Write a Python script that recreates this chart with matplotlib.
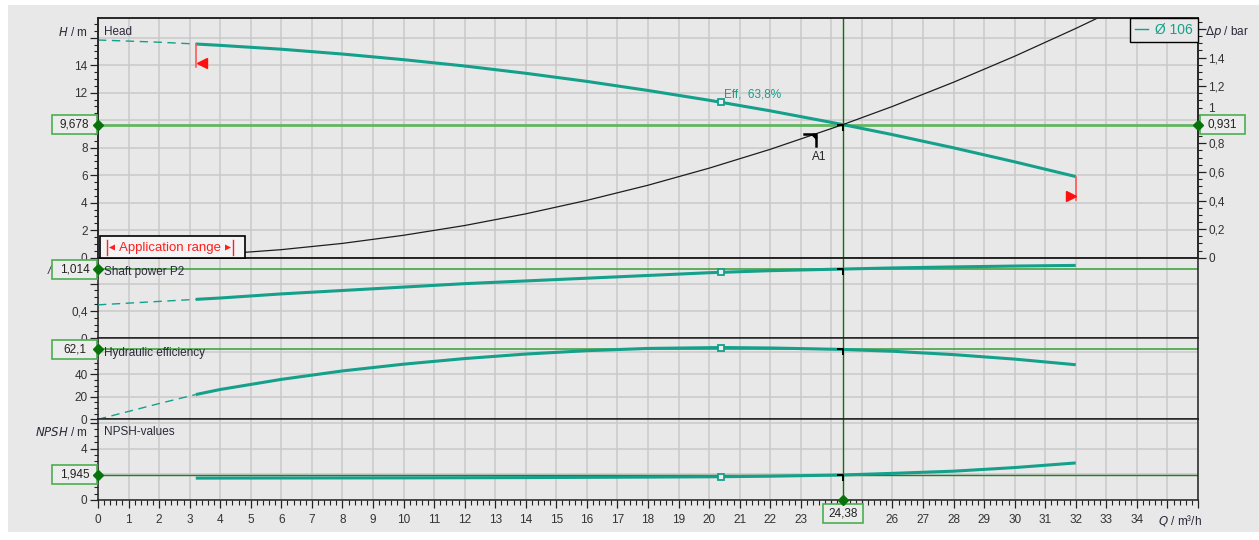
import numpy as np
import matplotlib.pyplot as plt
from matplotlib.lines import Line2D
from matplotlib.patches import Rectangle, Polygon
from matplotlib.path import Path
from matplotlib.ticker import MultipleLocator, FuncFormatter
from matplotlib.transforms import IdentityTransform, offset_copy

plt.rcParams['font.family'] = ['Liberation Sans', 'DejaVu Sans']
plt.rcParams['font.size'] = 8.5

W, H = 1259, 540
DPI = 100

BG = '#e8e8e8'
GRID = '#c9c9c9'
TEAL = '#14a08a'
DK_GREEN = '#0a720a'
INK = '#2a2a3a'

# pump curve, flow in m3/h
q_head = [0, 2, 3.2, 4, 6, 8, 10, 12, 14, 16, 18, 20, 22, 24, 24.38, 26, 28, 30, 32]
head = [15.83, 15.67, 15.54, 15.44, 15.16, 14.81, 14.40, 13.94, 13.41, 12.82,
        12.16, 11.45, 10.68, 9.84, 9.678, 8.95, 7.99, 6.97, 5.90]

# system curve
q_sys = [0, 2, 4, 6, 8, 10, 12, 14, 16, 18, 20, 22, 24.38, 26, 28, 30, 32, 33]
h_sys = [0, 0.065, 0.26, 0.586, 1.04, 1.63, 2.34, 3.19, 4.17, 5.27, 6.51, 7.88,
         9.678, 11.0, 12.76, 14.65, 16.67, 17.73]

q_pow = [0, 2, 3.2, 4, 6, 8, 10, 12, 14, 16, 18, 20, 22, 24.38, 26, 28, 30, 32]
power = [0.49, 0.54, 0.57, 0.59, 0.65, 0.70, 0.75, 0.80, 0.84, 0.88, 0.92,
         0.96, 0.99, 1.014, 1.03, 1.045, 1.058, 1.067]

q_eff = [0, 1, 2, 3.2, 4, 6, 8, 10, 12, 14, 16, 18, 20.4, 22, 24.38, 26, 28, 30, 32]
eff = [0, 7, 14, 22, 26.5, 35.5, 43, 49, 54, 58, 61, 63, 63.8, 63.4, 62.1,
       60.5, 57.5, 53.5, 48.5]

q_npsh = [3.2, 6, 10, 14, 18, 20.4, 22, 24.38, 26, 28, 30, 32]
npsh = [1.70, 1.71, 1.72, 1.74, 1.78, 1.81, 1.85, 1.945, 2.07, 2.24, 2.52, 2.88]

# duty point and best efficiency point
q_duty, h_duty, dp_duty = 24.38, 9.678, 0.931
p_duty, eff_duty, npsh_duty = 1.014, 62.1, 1.945
q_bep, eff_bep = 20.4, 63.8
q_min, q_max = 3.2, 32
q_a1 = 23.5

bar_per_m = dp_duty / h_duty


def dec_comma(hide=()):
    def fmt(v, pos):
        for h in hide:
            if abs(v - h) < 1e-9:
                return ''
        return f"{v:.2f}".rstrip('0').rstrip('.').replace('.', ',')
    return FuncFormatter(fmt)


fig = plt.figure(figsize=(W / DPI, H / DPI), dpi=DPI, facecolor='white')
fig.add_artist(Rectangle((8 / W, 8 / H), 1 - 8 / W, 1 - 13 / H,
                         transform=fig.transFigure, fc=BG, ec='none', zorder=-10))


def panel(top, bottom):
    ax = fig.add_axes([98 / W, 1 - bottom / H, 1100 / W, (bottom - top) / H])
    ax.set_facecolor(BG)
    ax.set_xlim(0, 36)
    ax.xaxis.set_major_locator(MultipleLocator(1))
    ax.xaxis.set_minor_locator(MultipleLocator(0.2))
    ax.grid(True, which='major', color=GRID, lw=1.1)
    ax.set_axisbelow(True)
    for s in ax.spines.values():
        s.set_color('#222222')
        s.set_linewidth(1.1)
    ax.tick_params(axis='y', which='major', direction='out', length=5.5, width=0.9,
                   colors='#222222', labelcolor='#333333', labelsize=8.5, pad=2)
    ax.tick_params(axis='y', which='minor', direction='out', length=3, width=0.8,
                   colors='#222222')
    ax.tick_params(axis='x', which='both', bottom=False, labelbottom=False)
    return ax


ax_h = panel(18, 257.7)
ax_p = panel(257.7, 338.3)
ax_e = panel(338.3, 419.3)
ax_n = panel(419.3, 500)

ax_h.set_ylim(0, 17.43)
ax_h.yaxis.set_major_locator(MultipleLocator(2))
ax_h.yaxis.set_minor_locator(MultipleLocator(0.5))
ax_h.yaxis.set_major_formatter(dec_comma(hide=(10, 16)))

ax_p.set_ylim(0, 1.18)
ax_p.yaxis.set_major_locator(MultipleLocator(0.4))
ax_p.yaxis.set_minor_locator(MultipleLocator(0.1))
ax_p.yaxis.set_major_formatter(dec_comma(hide=(0.8,)))

ax_e.set_ylim(0, 72)
ax_e.yaxis.set_major_locator(MultipleLocator(20))
ax_e.yaxis.set_minor_locator(MultipleLocator(5))
ax_e.yaxis.set_major_formatter(dec_comma(hide=(60,)))

ax_n.set_ylim(0, 6.27)
ax_n.yaxis.set_major_locator(MultipleLocator(2))
ax_n.yaxis.set_minor_locator(MultipleLocator(0.5))
ax_n.yaxis.set_major_formatter(dec_comma(hide=(2, 6)))
ax_n.tick_params(axis='x', which='major', bottom=True, labelbottom=True, direction='out',
                 length=6, width=0.9, colors='#222222', labelcolor='#333333',
                 labelsize=8.5, pad=4)
ax_n.tick_params(axis='x', which='minor', bottom=True, direction='out', length=3.5,
                 width=0.8, colors='#222222')
# labels under the duty flow box and past 34 are left out
ax_n.xaxis.set_major_formatter(
    FuncFormatter(lambda v, p: '' if (v > 34.5 or 23.5 < v < 25.5) else f"{v:g}"))

# differential pressure scale on the right of the head panel
ax_dp = ax_h.twinx()
ax_dp.set_ylim(0, 17.43 * bar_per_m)
ax_dp.yaxis.set_major_locator(MultipleLocator(0.2))
ax_dp.yaxis.set_minor_locator(MultipleLocator(0.05))
ax_dp.yaxis.set_major_formatter(dec_comma(hide=(1.0, 1.6)))
ax_dp.tick_params(axis='y', which='major', direction='out', length=5.5, width=0.9,
                  colors='#222222', labelcolor='#333333', labelsize=8.5, pad=2)
ax_dp.tick_params(axis='y', which='minor', direction='out', length=3, width=0.8,
                  colors='#222222')
for s in ax_dp.spines.values():
    s.set_color('#222222')
    s.set_linewidth(1.1)

# duty point lines
for ax in (ax_h, ax_p, ax_e, ax_n):
    ax.axvline(q_duty, color=DK_GREEN, lw=1.0, zorder=2)
ax_h.axhline(h_duty, color='#62b662', lw=2.0, zorder=2)
ax_p.axhline(p_duty, color='#34a034', lw=1.1, zorder=2)
ax_e.axhline(eff_duty, color='#34a034', lw=1.1, zorder=2)
ax_n.axhline(npsh_duty, color='#1f801f', lw=1.0, zorder=2)


def draw_curve(ax, q, v):
    q = np.asarray(q)
    v = np.asarray(v)
    lo = q <= q_min
    hi = q >= q_min
    if lo.sum() > 1:
        ax.plot(q[lo], v[lo], color=TEAL, lw=1.0, dashes=(6, 4), zorder=3)
    ax.plot(q[hi], v[hi], color=TEAL, lw=2.2, zorder=3, solid_capstyle='butt')


draw_curve(ax_h, q_head, head)
draw_curve(ax_p, q_pow, power)
draw_curve(ax_e, q_eff, eff)
draw_curve(ax_n, q_npsh, npsh)

ax_h.plot(q_sys, h_sys, color='#1e1e1e', lw=0.9, zorder=3)

# best efficiency point markers
for ax, q, v in ((ax_h, q_head, head), (ax_p, q_pow, power),
                 (ax_e, q_eff, eff), (ax_n, q_npsh, npsh)):
    ax.plot([q_bep], [np.interp(q_bep, q, v)], 's', ms=5, mfc='#eeeeee',
            mec=TEAL, mew=1.3, zorder=5)
ax_h.annotate(f"Eff.  {eff_bep:.1f}%".replace('.', ','),
              (q_bep, np.interp(q_bep, q_head, head)), xytext=(3, 8),
              textcoords='offset pixels', color=TEAL, fontsize=8.5, va='center')

# hook marks at the duty point and A1
hook = Path([(-1, 0), (0, 0), (0, -1)], [Path.MOVETO, Path.LINETO, Path.LINETO])
for ax, v in ((ax_h, h_duty), (ax_p, p_duty), (ax_e, eff_duty), (ax_n, npsh_duty)):
    ax.plot([q_duty], [v], marker=hook, ms=9, mfc='none', mec='black', mew=1.4,
            zorder=6)
hook_a1 = Path([(-1, 0), (0, 0), (0, -1), (-0.3, 0), (0, -0.3)],
               [Path.MOVETO, Path.LINETO, Path.LINETO, Path.MOVETO, Path.LINETO])
h_a1 = np.interp(q_a1, q_sys, h_sys)
ax_h.plot([q_a1], [h_a1], marker=hook_a1, ms=19, mfc='none', mec='black', mew=1.8,
          zorder=6)
ax_h.annotate('A1', (q_a1, h_a1), xytext=(3, -23), textcoords='offset pixels',
              ha='center', va='center', fontsize=8.5, color='#222222')

# application range limits
for q, v, dx in ((q_min, np.interp(q_min, q_head, head), 6),
                 (q_max, np.interp(q_max, q_head, head), -5)):
    tr = ax_h.transData
    ax_h.plot([q, q], [v, v - 23 / 13.75], color='#ff5a5a', lw=1.2, zorder=4)
    mk_tr = offset_copy(tr, fig=fig, x=dx, y=-19, units='dots')
    ax_h.plot([q], [v], marker='<' if dx > 0 else '>', ms=6.5, color='#ff1010',
              transform=mk_tr, zorder=4, clip_on=False)

# legend
leg = ax_dp.legend([Line2D([], [], color=TEAL, lw=1)], ['Ø 106'], loc='upper right',
                   bbox_to_anchor=(1, 1), borderaxespad=0, fancybox=False,
                   edgecolor='black', facecolor=BG, framealpha=1, labelcolor=TEAL,
                   handlelength=1.0, handletextpad=0.5, fontsize=10,
                   borderpad=0.35)
leg.get_frame().set_linewidth(1.0)


def img(x, y):
    return x, H - y


def value_box(ax, x, y, text, dx, dy=0, w=45, h=19):
    px, py = ax.transData.transform((x, y))
    cx, cy = px + dx, py + dy
    fig.add_artist(Rectangle((cx - w / 2, cy - h / 2), w, h, transform=IdentityTransform(),
                             fc='#ececec', ec='#4caf50', lw=1.2, zorder=5))
    fig.text(cx, cy, text, transform=IdentityTransform(), ha='center', va='center',
             fontsize=8.5, color='#222222', zorder=6)
    fig.add_artist(Line2D([px], [py], marker='D', ms=4.8, color=DK_GREEN,
                          transform=IdentityTransform(), zorder=7))


def comma(v):
    return f"{v:g}".replace('.', ',')


# axis captions
def ptext(x, y, s, **kw):
    kw.setdefault('va', 'center')
    kw.setdefault('color', INK)
    fig.text(*img(x, y), s, transform=IdentityTransform(), **kw)


ptext(88, 32, '$H$ / m', ha='right')
ptext(51, 271, '/', ha='right', style='italic')
ptext(88, 432, '$NPSH$ / m', ha='right')
ptext(1205, 32, r'$\Delta p$ / bar', ha='left')
ptext(1158, 520, '$Q$ / m³/h', ha='left')
ptext(104, 32, 'Head', ha='left')
ptext(104, 272, 'Shaft power P2', ha='left')
ptext(104, 353, 'Hydraulic efficiency', ha='left')
ptext(104, 432, 'NPSH-values', ha='left')
# the 1 bar label sits just above the duty pressure box
ptext(1208.5, 109, '1', ha='left', color='#333333', fontsize=8.5)

value_box(ax_h, 0, h_duty, comma(h_duty), dx=-23.5)
value_box(ax_dp, 36, dp_duty, comma(dp_duty), dx=24.5)
value_box(ax_p, 0, p_duty, comma(p_duty), dx=-23.5)
value_box(ax_e, 0, eff_duty, comma(eff_duty), dx=-23.5)
value_box(ax_n, 0, npsh_duty, comma(npsh_duty), dx=-23.5)
value_box(ax_n, q_duty, 0, comma(q_duty), dx=0, dy=-13.5, w=40)

# application range box
fig.add_artist(Rectangle(img(100, 257.5), 145, 21.5, transform=IdentityTransform(),
                         fc='#f4f4f4', ec='black', lw=1.2, zorder=5))
RED = '#ff2020'
for x in (107, 232.5):
    fig.add_artist(Line2D([x, x], [H - 240, H - 255], transform=IdentityTransform(),
                          color=RED, lw=1.0, zorder=6))
fig.add_artist(Polygon([img(109, 247.5), img(115, 244.5), img(115, 250.5)],
                       transform=IdentityTransform(), fc=RED, ec='none', zorder=6))
fig.add_artist(Polygon([img(231, 247.5), img(225, 244.5), img(225, 250.5)],
                       transform=IdentityTransform(), fc=RED, ec='none', zorder=6))
ptext(170, 247.5, 'Application range', ha='center', color=RED, fontsize=9.5, zorder=6)

fig.savefig('out.png', dpi=DPI, facecolor='white')
